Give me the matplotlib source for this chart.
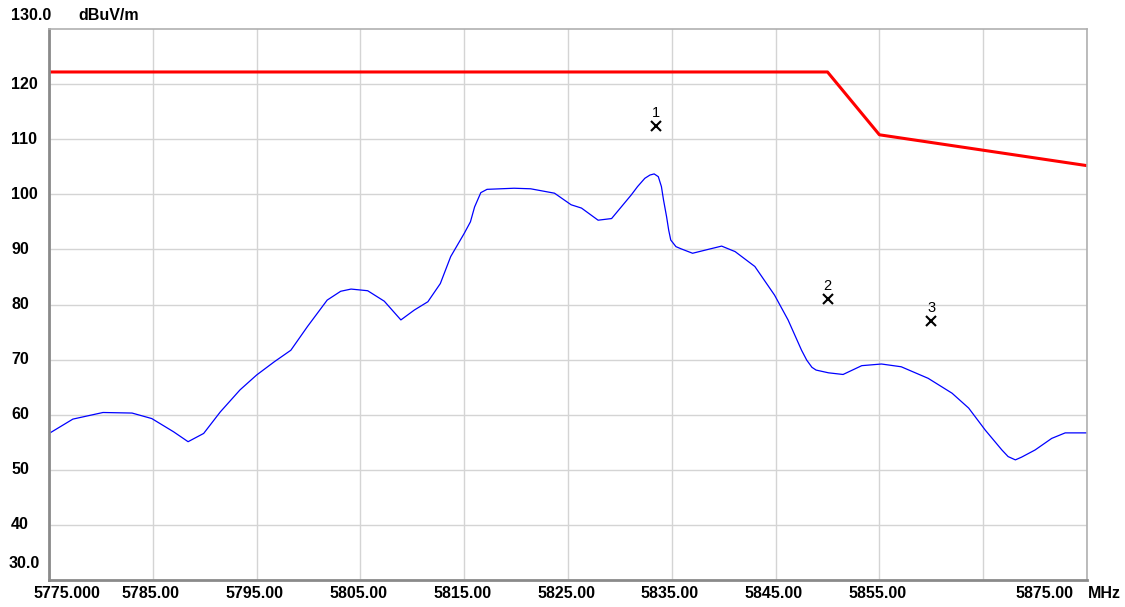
import matplotlib
matplotlib.use("Agg")
import matplotlib.pyplot as plt

# ---- data ----
trace_freq = [5775.1, 5777.3, 5780.2, 5783.0, 5784.9, 5787.0, 5788.4, 5789.9, 5791.5,
              5793.4, 5795.0, 5796.7, 5798.3, 5799.9, 5801.8, 5803.1, 5804.1, 5805.7, 5807.3,
              5808.9, 5810.2, 5811.5, 5812.7, 5813.7, 5815.0, 5815.6, 5816.0, 5816.6, 5817.2,
              5819.8, 5821.4, 5823.7, 5825.3, 5826.3, 5827.9, 5829.2, 5831.1, 5831.7, 5832.4,
              5832.9, 5833.3, 5833.7, 5834.0, 5834.2, 5834.5, 5834.7, 5834.9, 5835.4, 5835.9,
              5837.0, 5838.5, 5839.8, 5841.1,
              5843.0, 5844.9, 5846.2, 5847.5, 5848.0, 5848.5, 5848.9, 5850.1, 5851.5, 5853.3,
              5855.2, 5857.1, 5859.7, 5862.0, 5863.6, 5865.2, 5866.8, 5867.4, 5868.1, 5868.7,
              5870.0, 5871.6, 5872.9, 5875.0]
trace_level = [56.7, 59.2, 60.4, 60.3, 59.3, 56.9, 55.1, 56.6, 60.5,
               64.5, 67.2, 69.6, 71.7, 76.0, 80.8, 82.4, 82.8, 82.5, 80.6,
               77.2, 79.0, 80.5, 83.8, 88.7, 92.9, 95.0, 97.7, 100.3, 100.9,
               101.1, 101.0, 100.2, 98.1, 97.5, 95.3, 95.6, 99.9, 101.4, 102.9,
               103.5, 103.7, 103.2, 101.4, 99.0, 95.9, 93.5, 91.7, 90.5, 90.1,
               89.3, 90.0, 90.6, 89.6,
               86.9, 81.7, 77.2, 71.7, 69.9, 68.6, 68.1, 67.6, 67.3, 68.9,
               69.2, 68.7, 66.6, 63.9, 61.2, 57.2, 53.6, 52.4, 51.8, 52.3,
               53.6, 55.7, 56.7, 56.7]

limit_freq = [5775.0, 5850.0, 5855.0, 5875.0]
limit_level = [122.2, 122.2, 110.8, 105.2]

marker_labels = ["1", "2", "3"]
marker_freq = [5833.5, 5850.0, 5860.0]
marker_level = [112.4, 81.0, 77.0]

xticks = [5775, 5785, 5795, 5805, 5815, 5825, 5835, 5845, 5855, 5865, 5875]
xtick_labels = ["5775.000", "5785.00", "5795.00", "5805.00", "5815.00", "5825.00",
                "5835.00", "5845.00", "5855.00", "", "5875.00"]
yticks = [40, 50, 60, 70, 80, 90, 100, 110, 120]
ytick_labels = ["40", "50", "60", "70", "80", "90", "100", "110", "120"]

# ---- figure ----
W, H = 1125, 607
fig = plt.figure(figsize=(W / 100, H / 100), dpi=100)
L, R, T, B = 49, 1087, 29, 580
ax = fig.add_axes([L / W, 1 - B / H, (R - L) / W, (B - T) / H])
ax.set_xlim(5775, 5875)
ax.set_ylim(30, 130)

ax.set_xticks(xticks)
ax.set_yticks(yticks)
ax.set_xticklabels([])
ax.set_yticklabels([])
ax.tick_params(length=0)
ax.grid(True, color="#d4d4d4", linewidth=1.0)
ax.set_axisbelow(True)
for s in ["top", "right"]:
    ax.spines[s].set_color("#b0b0b0")
    ax.spines[s].set_linewidth(1.2)
for s in ["left", "bottom"]:
    ax.spines[s].set_color("#8a8a8a")
    ax.spines[s].set_linewidth(2.0)

ax.plot(limit_freq, limit_level, color="#ff0000", linewidth=2.2, solid_joinstyle="round")
ax.plot(trace_freq, trace_level, color="#0000ff", linewidth=0.9, solid_joinstyle="round")

for lab, f, v in zip(marker_labels, marker_freq, marker_level):
    ax.plot([f], [v], marker="x", color="black", markersize=6.5, markeredgewidth=1.5, linestyle="none")
    ax.annotate(lab, (f, v), xytext=(0, 4.5), textcoords="offset points", ha="center", va="bottom",
                fontsize=10.5, family="Liberation Sans", color="black")

fnt = dict(family="Liberation Sans", fontweight="bold", fontsize=11.5, color="black")


def fig_text(xp, yp, s, ha="left", va="center"):
    fig.text(xp / W, 1 - yp / H, s, ha=ha, va=va, **fnt)


for v, lab in zip(yticks, ytick_labels):
    yp = T + (130 - v) / 100 * (B - T)
    fig_text(11, yp, lab)
fig_text(11, 15, "130.0")
fig_text(78, 15, "dBuV/m")
fig_text(9, 564, "30.0")

for f, lab in zip(xticks, xtick_labels):
    if not lab:
        continue
    xp = L + (f - 5775) / 100 * (R - L)
    if f == 5775:
        fig_text(33, 593, lab)
    elif f == 5875:
        fig_text(1073, 593, lab, ha="right")
    else:
        fig_text(xp - 2, 593, lab, ha="center")
fig_text(1088, 593, "MHz")

fig.savefig("out.png", dpi=100)
